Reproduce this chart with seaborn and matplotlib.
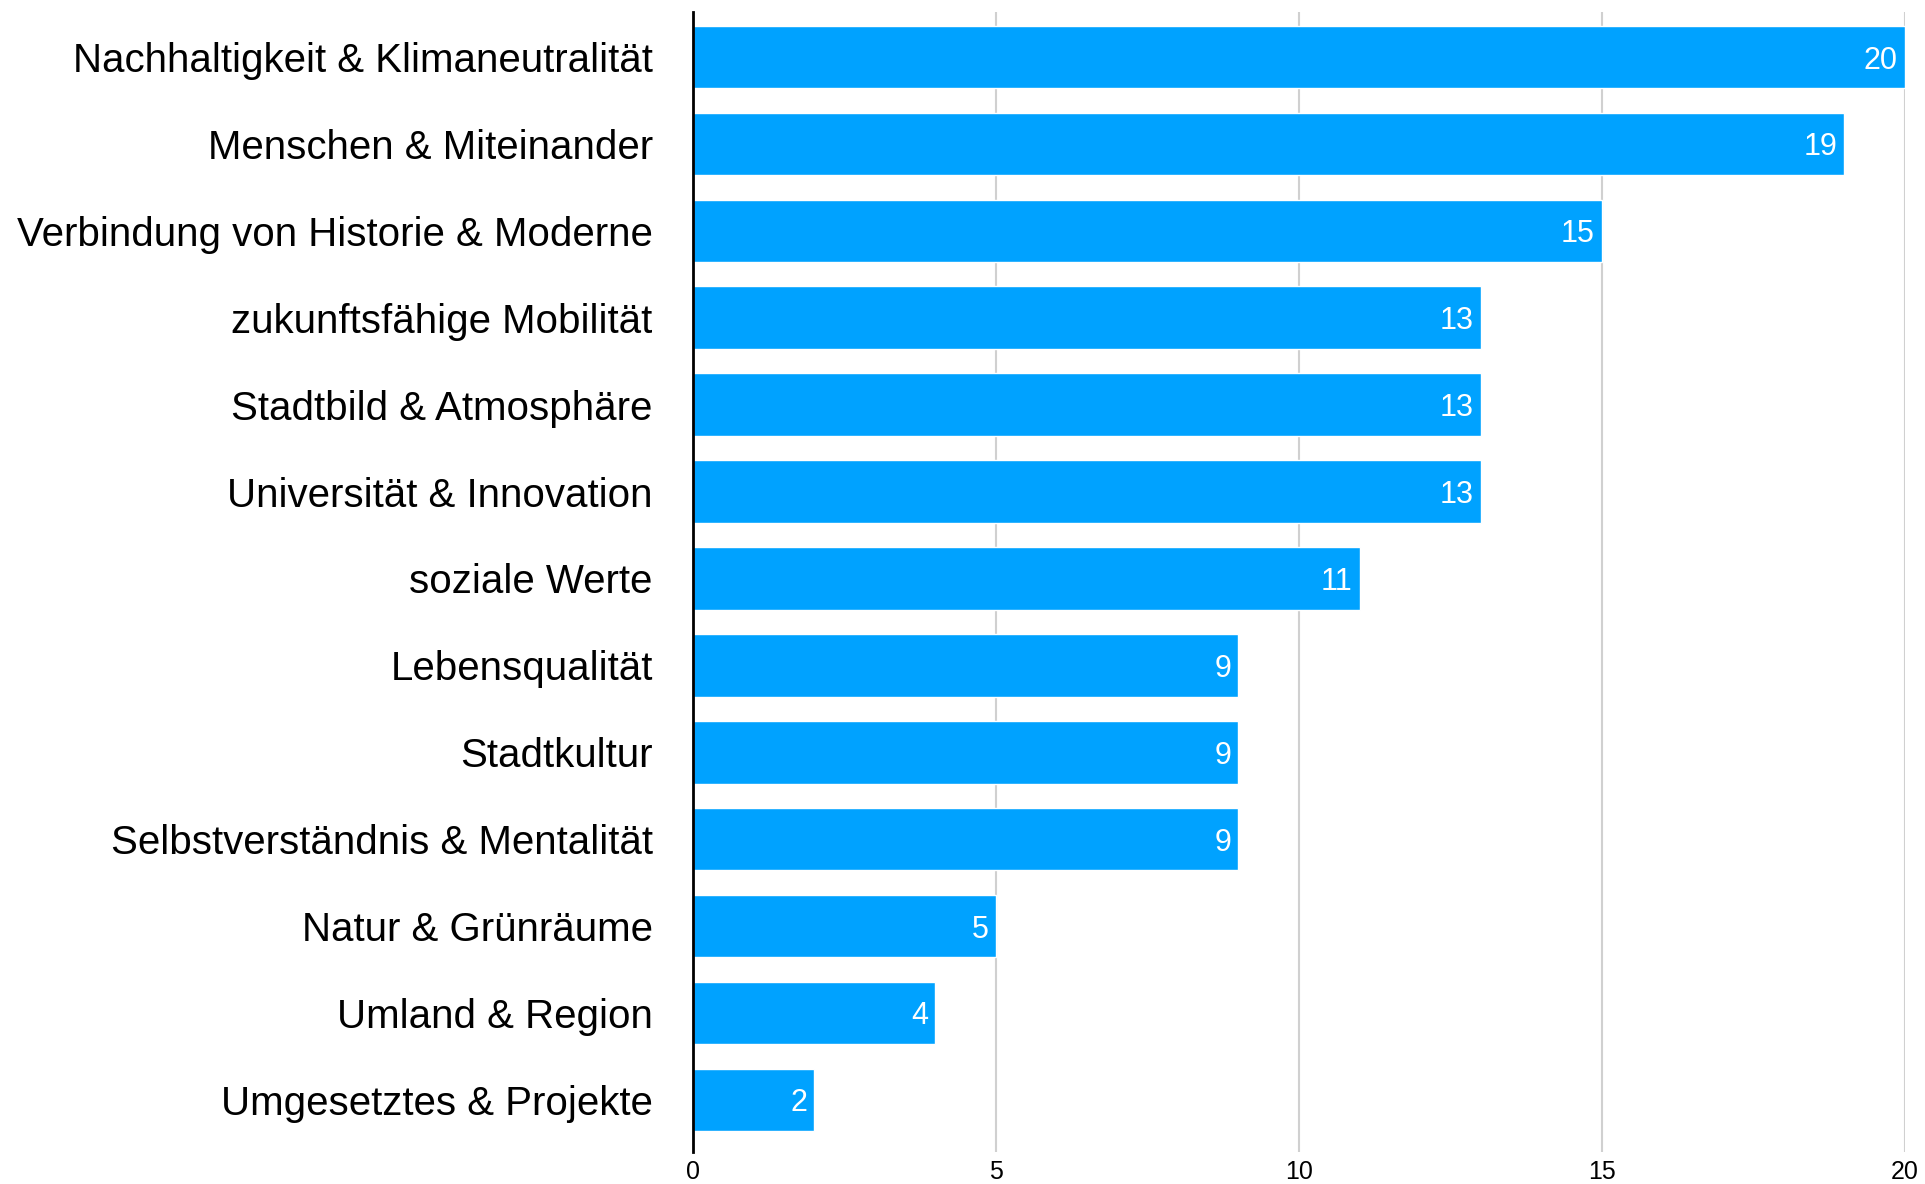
import matplotlib.pyplot as plt
import seaborn as sns
import pandas as pd

# Werte
themen = [
    'Nachhaltigkeit & Klimaneutralität',
    'Menschen & Miteinander',
    'Verbindung von Historie & Moderne',
    'zukunftsfähige Mobilität',
    'Stadtbild & Atmosphäre',
    'Universität & Innovation',
    'soziale Werte',
    'Lebensqualität',
    'Stadtkultur',
    'Selbstverständnis & Mentalität',
    'Natur & Grünräume',
    'Umland & Region',
    'Umgesetztes & Projekte',
]
anzahl = [20, 19, 15, 13, 13, 13, 11, 9, 9, 9, 5, 4, 2]
x_ticks = [0, 5, 10, 15, 20]

df = pd.DataFrame({'thema': themen, 'n': anzahl})

sns.set_theme(style='white')
plt.rcParams['font.family'] = ['Liberation Sans', 'DejaVu Sans']

fig = plt.figure(figsize=(19.25, 11.84), dpi=100)
ax = fig.add_axes([0.36, 0.027, 0.6296, 0.963])

sns.barplot(data=df, x='n', y='thema', color='#00A2FF', saturation=1,
            width=0.72, ax=ax, zorder=3)

for i, v in enumerate(anzahl):
    ax.text(v - 0.12, i, str(v), color='white', fontsize=22,
            ha='right', va='center_baseline', zorder=4)

ax.set_xlim(0, 20)
ax.set_ylim(12.6, -0.52)
ax.set_xticks(x_ticks)
ax.set_xticklabels([str(t) for t in x_ticks], fontsize=18, color='black')
ax.tick_params(axis='x', length=0, pad=6)
ax.tick_params(axis='y', length=0, pad=29, labelsize=29, labelcolor='black')
ax.set_xlabel('')
ax.set_ylabel('')

for t in x_ticks[1:]:
    ax.axvline(t, color='#d0d0d0', lw=1.5, zorder=1)

for s in ['top', 'right', 'bottom']:
    ax.spines[s].set_visible(False)
ax.spines['left'].set_color('black')
ax.spines['left'].set_linewidth(2)
ax.spines['left'].set_zorder(5)

fig.savefig('out.png', dpi=100, facecolor='white')
